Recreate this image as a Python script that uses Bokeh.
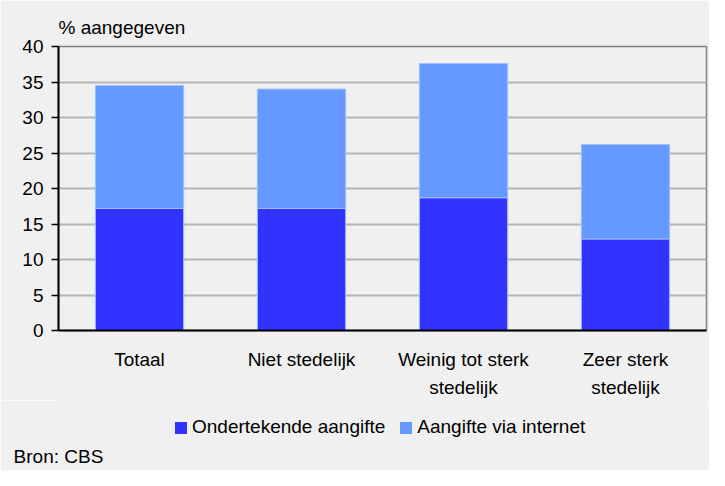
from bokeh.plotting import figure
from bokeh.layouts import column
from bokeh.models import (Range1d, LinearAxis, Legend, LegendItem,
                          FixedTicker, ColumnDataSource, CustomJSTickFormatter)
from bokeh.embed import file_html
from bokeh.resources import INLINE

# ---- data ----
categories = ["Totaal", "Niet stedelijk", "Weinig tot sterk stedelijk", "Zeer sterk stedelijk"]
label_line1 = ["Totaal", "Niet stedelijk", "Weinig tot sterk", "Zeer sterk"]
label_line2 = ["", "", "stedelijk", "stedelijk"]
ondertekend = [17.2, 17.2, 18.7, 12.9]
internet = [17.3, 16.8, 18.9, 13.3]
series_names = ["Ondertekende aangifte", "Aangifte via internet"]
y_ticks = [0, 5, 10, 15, 20, 25, 30, 35, 40]
source_note = "Bron: CBS"

FONT = "Liberation Sans"
FS = "19px"
BG = "#f0f0f0"
colors = ["#3333ff", "#6699ff"]
W = 709

xpos = [i + 0.5 for i in range(len(categories))]
source = ColumnDataSource(dict(x=xpos, cat=categories, ondertekend=ondertekend, internet=internet))

p = figure(x_range=Range1d(0, len(categories)), y_range=Range1d(0, 40),
           width=W, height=400, output_backend="svg", toolbar_location=None,
           min_border_left=58, min_border_right=3, min_border_top=46, min_border_bottom=68,
           background_fill_color=BG, border_fill_color=BG)

renderers = p.vbar_stack(["ondertekend", "internet"], x="x", width=0.545, source=source,
                         fill_color=colors, line_color="#9fbfff", line_width=1)

# title
p.title.text = "% aangegeven"
p.title.align = "left"
p.title.text_font = FONT
p.title.text_font_size = FS
p.title.text_font_style = "normal"
p.title.text_color = "#000000"
p.title.standoff = 17

# grid
p.xgrid.grid_line_color = None
p.ygrid.grid_line_color = "#b4b4b4"
p.ygrid.grid_line_width = 2
p.outline_line_color = "#808080"
p.outline_line_width = 1.5

# y axis
p.yaxis.ticker = FixedTicker(ticks=y_ticks)
p.yaxis.minor_tick_line_color = None
p.yaxis.major_tick_in = 0
p.yaxis.major_tick_out = 7
p.yaxis.major_tick_line_color = "#000000"
p.yaxis.major_tick_line_width = 1.5
p.yaxis.axis_line_color = "#000000"
p.yaxis.axis_line_width = 2
p.yaxis.major_label_standoff = 8
p.yaxis.major_label_text_font = FONT
p.yaxis.major_label_text_font_size = FS
p.yaxis.major_label_text_color = "#000000"

# x axis (first line of labels)
xa = p.xaxis[0]
xa.ticker = FixedTicker(ticks=xpos, minor_ticks=[])
xa.formatter = CustomJSTickFormatter(args=dict(labels=label_line1),
                                     code="return labels[Math.floor(tick)];")
xa.major_tick_in = 0
xa.major_tick_out = 0
xa.major_tick_line_color = None
xa.minor_tick_line_color = None
xa.axis_line_color = "#000000"
xa.axis_line_width = 2
xa.major_label_standoff = 18
xa.major_label_text_font = FONT
xa.major_label_text_font_size = FS
xa.major_label_text_color = "#000000"

# second line of labels
xa2 = LinearAxis(ticker=FixedTicker(ticks=xpos, minor_ticks=[]),
                 formatter=CustomJSTickFormatter(args=dict(labels=label_line2),
                                                 code="return labels[Math.floor(tick)];"),
                 axis_line_color=None, major_tick_line_color=None, minor_tick_line_color=None,
                 major_tick_in=0, major_tick_out=0, major_label_standoff=4,
                 major_label_text_font=FONT, major_label_text_font_size=FS,
                 major_label_text_color="#000000")
p.add_layout(xa2, "below")

# ---- footer figure: legend + source note ----
f = figure(x_range=Range1d(0, 1), y_range=Range1d(1000, 1001), width=W, height=70,
           output_backend="svg", toolbar_location=None, y_axis_location=None,
           min_border_left=58, min_border_right=3, min_border_top=0, min_border_bottom=31,
           background_fill_color=BG, border_fill_color=BG,
           outline_line_color=BG, outline_line_width=3)
f.grid.grid_line_color = None
fx = f.xaxis[0]
fx.ticker = FixedTicker(ticks=[0], minor_ticks=[])
fx.formatter = CustomJSTickFormatter(args=dict(note=source_note), code="return note;")
fx.axis_line_color = None
fx.major_tick_line_color = None
fx.minor_tick_line_color = None
fx.major_tick_in = 0
fx.major_tick_out = 0
fx.major_label_standoff = 6
fx.major_label_text_font = FONT
fx.major_label_text_font_size = FS
fx.major_label_text_color = "#000000"

# legend proxies: same stacked series, hidden (only their legend swatches are shown)
proxies = f.vbar_stack(["ondertekend", "internet"], x="x", width=0.545, source=source,
                       fill_color=colors, line_color=colors, line_alpha=0)
for r in proxies:
    r.visible = False

legend = Legend(items=[LegendItem(label=series_names[0], renderers=[proxies[0]]),
                       LegendItem(label=series_names[1], renderers=[proxies[1]])],
                orientation="horizontal", location=(115, 1),
                glyph_width=15, glyph_height=15, label_standoff=4, spacing=13,
                padding=0, margin=0, border_line_color=None, background_fill_alpha=0,
                inactive_fill_alpha=0,
                label_text_font=FONT, label_text_font_size=FS, label_text_color="#000000")
f.add_layout(legend, "center")

layout = column(p, f, spacing=0)
open("out.html", "w").write(file_html(layout, INLINE))
